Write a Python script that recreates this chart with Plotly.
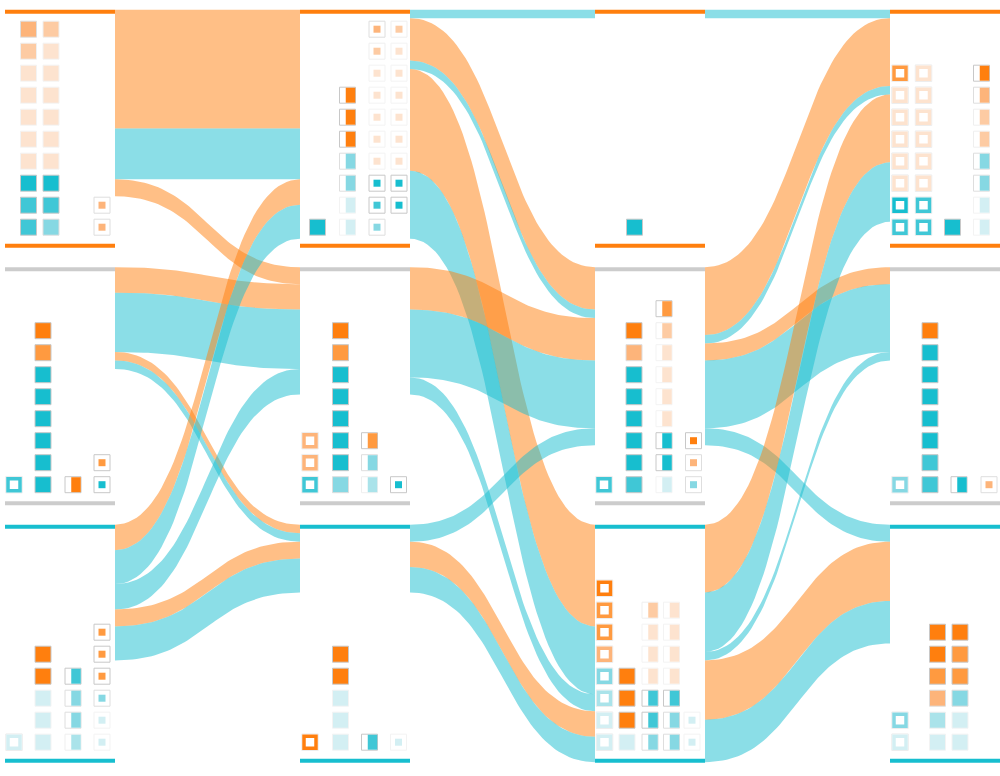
import numpy as np
import plotly.graph_objects as go

# ------------------------------------------------------------------ data
# Three states (rows) observed at four time steps (columns).
STATES = ["top", "middle", "bottom"]
TIME_STEPS = 4

# Flows between consecutive time steps: source state, target state, group, count
FLOW_SRC = [
    [0, 0, 0, 1, 1, 1, 1, 2, 2, 2, 2, 2],
    [0, 0, 0, 0, 0, 1, 1, 1, 2, 2, 2],
    [0, 1, 1, 1, 1, 1, 2, 2, 2, 2, 2],
]
FLOW_TGT = [
    [0, 0, 1, 1, 1, 2, 2, 0, 0, 1, 2, 2],
    [0, 1, 1, 2, 2, 1, 1, 2, 1, 2, 2],
    [0, 0, 0, 1, 1, 2, 0, 0, 1, 2, 2],
]
FLOW_GRP = [
    ["O", "C", "O", "O", "C", "O", "C", "O", "C", "C", "O", "C"],
    ["C", "O", "C", "O", "C", "O", "C", "C", "C", "O", "C"],
    ["C", "O", "C", "O", "C", "C", "O", "C", "C", "O", "C"],
]
FLOW_VAL = [
    [14, 6, 2, 3, 7, 1, 1, 3, 4, 3, 2, 4],
    [1, 5, 1, 12, 8, 5, 8, 2, 2, 3, 3],
    [1, 8, 1, 2, 8, 2, 8, 7, 1, 7, 5],
]

# Unit glyphs per panel (time step, state): kind and colour codes bottom -> top
GLYPHS = {
    (0, 0): [("fill", "C2 C2 C1 O5 O5 O5 O5 O5 O4 O3"),
             ("fill", "C3 C2 C1 O5 O5 O5 O5 O5 O5 O4"),
             ("dot", "O3 O3")],
    (0, 1): [("hollow", "C2"), ("fill", "C1 C1 C1 C1 C1 C1 O2 O1"),
             ("half", "O1"), ("dot", "C1 O2")],
    (0, 2): [("hollow", "C5"), ("fill", "C5 C5 C5 O1 O1"),
             ("half", "C4 C3 C3 C2"), ("dot", "C5 C5 C3 O2 O2 O2")],
    (1, 0): [("fill", "C1"), ("half", "C5 C5 C3 C3 O1 O1 O1"),
             ("dot", "C3 C2 C1 O5 O5 O5 O5 O5 O4 O3"),
             ("dot", "- C1 C1 O5 O5 O5 O5 O5 O5 O4")],
    (1, 1): [("hollow", "C2 O3 O3"), ("fill", "C3 C1 C1 C1 C1 C1 O2 O1"),
             ("half", "C4 C3 O2"), ("dot", "C1")],
    (1, 2): [("hollow", "O1"), ("fill", "C5 C5 C5 O1 O1"),
             ("half", "C2"), ("dot", "C5")],
    (2, 0): [("fill", "C1")],
    (2, 1): [("hollow", "C2"), ("fill", "C2 C1 C1 C1 C1 C1 O3 O1"),
             ("half", "C5 C1 C1 O5 O5 O5 O5 O4 O2"), ("dot", "C3 O3 O1")],
    (2, 2): [("hollow", "C5 C5 C4 C3 O3 O2 O2 O1"), ("fill", "C5 O1 O1 O1"),
             ("half", "C3 C2 C2 O5 O5 O5 O4"), ("half", "C3 C3 C2 O5 O5 O5 O5"),
             ("dot", "C5 C5")],
    (3, 0): [("hollow", "C2 C1 O5 O5 O5 O5 O5 O2"),
             ("hollow", "C2 C2 O5 O5 O5 O5 O5 O5"),
             ("fill", "C1"), ("half", "C5 C5 C3 C3 O4 O4 O3 O1")],
    (3, 1): [("hollow", "C3"), ("fill", "C2 C2 C1 C1 C1 C1 C1 O1"),
             ("half", "C1"), ("dot", "O3")],
    (3, 2): [("hollow", "C5 C3"), ("fill", "C5 C4 O3 O2 O1 O1"),
             ("fill", "C5 C5 C3 O2 O2 O1")],
}

# ------------------------------------------------------------------ layout / style
GLYPH_X = {
    (0, 0): [23.5, 46, 97], (0, 1): [9, 38, 68, 97], (0, 2): [9, 38, 68, 97],
    (1, 0): [17.5, 47.5, 77, 99], (1, 1): [10, 40.5, 69.5, 98.5],
    (1, 2): [10, 40.5, 69.5, 98.5], (2, 0): [39.5], (2, 1): [9, 39, 69, 98.5],
    (2, 2): [9.5, 32, 55, 76.5, 97], (3, 0): [10, 33.5, 62.5, 91.5],
    (3, 1): [10, 40, 69, 99], (3, 2): [10, 47.5, 70],
}
PALETTE = {
    "O1": "#ff7f0e", "O2": "#ff9a40", "O3": "#fdb47a", "O4": "#fdcba3", "O5": "#fde3cf",
    "C1": "#17becf", "C2": "#40c7d6", "C3": "#86d8e3", "C4": "#aae3ea", "C5": "#d3eff3",
}
BORDER = {"O1": "#c8c8c8", "O2": "#c8c8c8", "C1": "#c8c8c8", "C2": "#c8c8c8",
          "O3": "#dedede", "C3": "#dedede", "O4": "#efefef", "O5": "#f3f3f3",
          "C4": "#efefef", "C5": "#f3f3f3"}
GROUP_RGBA = {"O": "rgba(255,127,14,0.5)", "C": "rgba(23,190,207,0.5)"}
ROW_LINE = ["#ff7f0e", "#cccccc", "#17becf"]

COL_X0, COL_STEP, PANEL_W = 5, 295, 110
ROW_Y0, ROW_STEP, PANEL_H = 11.7, 257.5, 234
UNIT = 8.48
GLYPH_STEP, GLYPH_BOTTOM = 22, 18.5


def col_left(c):
    return COL_X0 + COL_STEP * c


def row_top(r):
    return ROW_Y0 + ROW_STEP * r


fig = go.Figure()

# ------------------------------------------------------------------ ribbons
t = np.linspace(0, 1, 60)
order = {"O": 0, "C": 1}
for s in range(TIME_STEPS - 1):
    flows = list(zip(FLOW_SRC[s], FLOW_TGT[s], FLOW_GRP[s], FLOW_VAL[s]))
    idx = list(range(len(flows)))
    src_sorted = sorted(idx, key=lambda i: (flows[i][0], flows[i][1], order[flows[i][2]]))
    tgt_sorted = sorted(idx, key=lambda i: (flows[i][1], flows[i][0], order[flows[i][2]]))
    y_src, y_tgt = {}, {}
    acc = {r: row_top(r) - 2 for r in range(3)}
    for i in src_sorted:
        y_src[i] = acc[flows[i][0]]
        acc[flows[i][0]] += flows[i][3] * UNIT
    acc = {r: row_top(r) - 2 for r in range(3)}
    for i in tgt_sorted:
        y_tgt[i] = acc[flows[i][1]]
        acc[flows[i][1]] += flows[i][3] * UNIT
    x0 = col_left(s) + PANEL_W
    x1 = col_left(s + 1)
    xm = (x0 + x1) / 2
    bx = (1 - t) ** 3 * x0 + 3 * (1 - t) ** 2 * t * xm + 3 * (1 - t) * t ** 2 * xm + t ** 3 * x1
    for i in idx:
        ys, yt = y_src[i], y_tgt[i]
        w = flows[i][3] * UNIT
        by = (1 - t) ** 3 * ys + 3 * (1 - t) ** 2 * t * ys + 3 * (1 - t) * t ** 2 * yt + t ** 3 * yt
        xs = np.concatenate([bx, bx[::-1]])
        yy = np.concatenate([by, (by + w)[::-1]])
        fig.add_trace(go.Scatter(x=xs, y=yy, mode="lines", fill="toself",
                                 fillcolor=GROUP_RGBA[flows[i][2]],
                                 line=dict(width=0), hoverinfo="skip"))

# ------------------------------------------------------------------ panel lines
for r in range(3):
    lx, ly = [], []
    for c in range(TIME_STEPS):
        for y in (row_top(r), row_top(r) + PANEL_H):
            lx += [col_left(c), col_left(c) + PANEL_W, None]
            ly += [y, y, None]
    fig.add_trace(go.Scatter(x=lx, y=ly, mode="lines",
                             line=dict(color=ROW_LINE[r], width=4), hoverinfo="skip"))

# ------------------------------------------------------------------ glyphs
pts = {k: {"x": [], "y": [], "c": []} for k in ("fill", "hollow", "half", "dot")}
for (c, r), cols in GLYPHS.items():
    for (kind, codes), xo in zip(cols, GLYPH_X[(c, r)]):
        for j, code in enumerate(codes.split()):
            if code == "-":
                continue
            pts[kind]["x"].append(col_left(c) + xo)
            pts[kind]["y"].append(row_top(r) + PANEL_H - GLYPH_BOTTOM - j * GLYPH_STEP)
            pts[kind]["c"].append(code)

p = pts["fill"]
fig.add_trace(go.Scatter(x=p["x"], y=p["y"], mode="markers", hoverinfo="skip",
                         marker=dict(symbol="square", size=16,
                                     color=[PALETTE[k] for k in p["c"]],
                                     line=dict(width=1, color=[BORDER[k] for k in p["c"]]))))
p = pts["hollow"]
fig.add_trace(go.Scatter(x=p["x"], y=p["y"], mode="markers", hoverinfo="skip",
                         marker=dict(symbol="square", size=16.5, color="white",
                                     line=dict(width=1, color="#ececec"))))
fig.add_trace(go.Scatter(x=p["x"], y=p["y"], mode="markers", hoverinfo="skip",
                         marker=dict(symbol="square", size=12, color="white",
                                     line=dict(width=3.5, color=[PALETTE[k] for k in p["c"]]))))
p = pts["half"]
fig.add_trace(go.Scatter(x=p["x"], y=p["y"], mode="markers", hoverinfo="skip",
                         marker=dict(symbol="square", size=16, color="white",
                                     line=dict(width=1, color=[BORDER[k] for k in p["c"]]))))
fig.add_trace(go.Scatter(x=[v + 3 for v in p["x"]], y=p["y"], mode="markers", hoverinfo="skip",
                         marker=dict(symbol="line-ns", size=10.7,
                                     line=dict(width=9.5, color=[PALETTE[k] for k in p["c"]]))))
p = pts["dot"]
fig.add_trace(go.Scatter(x=p["x"], y=p["y"], mode="markers", hoverinfo="skip",
                         marker=dict(symbol="square", size=16, color="white",
                                     line=dict(width=1, color=[BORDER[k] for k in p["c"]]))))
fig.add_trace(go.Scatter(x=p["x"], y=p["y"], mode="markers", hoverinfo="skip",
                         marker=dict(symbol="square", size=7,
                                     color=[PALETTE[k] for k in p["c"]], line=dict(width=0))))

fig.update_layout(
    width=1000, height=776, autosize=False,
    margin=dict(l=0, r=0, t=0, b=0),
    paper_bgcolor="white", plot_bgcolor="white", showlegend=False,
    xaxis=dict(range=[0, 1000], visible=False, fixedrange=True),
    yaxis=dict(range=[776, 0], visible=False, fixedrange=True),
)
fig.write_html("out.html", config={"displayModeBar": False},
               post_script="document.body.style.margin='0';document.body.style.overflow='hidden';")
